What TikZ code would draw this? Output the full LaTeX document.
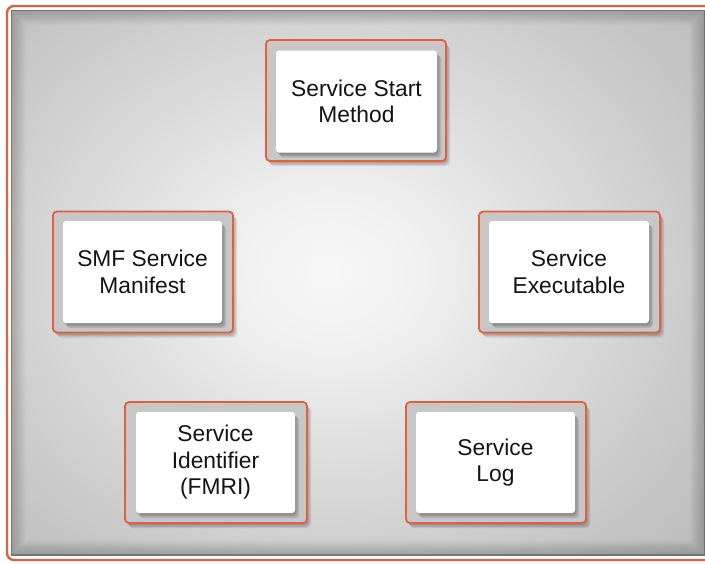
\documentclass[tikz,border=0pt]{standalone}
\usepackage{fontspec}
\setmainfont{Liberation Sans}
\usetikzlibrary{shadows}
\definecolor{frameor}{HTML}{E2603C}
\definecolor{txt}{HTML}{141414}
\pgfdeclareradialshading{bgrad}{\pgfpoint{0bp}{0bp}}{%
  color(0bp)=(white!97!black);
  color(6bp)=(white!94!black);
  color(15bp)=(white!86!black);
  color(25bp)=(white!78!black);
  color(35bp)=(white!71!black);
  color(45bp)=(white!66!black);
  color(60bp)=(white!62!black);
  color(71bp)=(white!60!black)}
\tikzset{
  softshadow/.style={
    drop shadow={opacity=0.10, shadow xshift=1pt, shadow yshift=-2pt, fill=black},
    drop shadow={opacity=0.12, shadow xshift=2.5pt, shadow yshift=-3.5pt, fill=black},
    drop shadow={opacity=0.10, shadow xshift=4pt, shadow yshift=-5pt, fill=black}},
  orbox/.style={draw=frameor, line width=1.8pt, rounded corners=4pt,
    fill=white!78!black, minimum width=180pt, minimum height=121pt,
    inner sep=0pt, softshadow},
  whbox/.style={fill=white, rounded corners=3pt, minimum width=160pt,
    minimum height=102pt, inner sep=2pt, align=center, text=txt,
    font=\fontsize{22.8}{26.5}\selectfont, softshadow}
}
\begin{document}
\begin{tikzpicture}[x=1pt,y=-1pt]
\useasboundingbox (0,0) rectangle (705,563);
\fill[white] (0,0) rectangle (705,563);
\draw[frameor, line width=2.4pt, rounded corners=7pt] (7,6) rectangle (720,560);
\begin{scope}
  \clip (11,10) rectangle (705,555);
  \shade[shading=bgrad] (-70,-58) rectangle (730,602);
  \foreach \w in {2,4,...,30}{
    \draw[black, opacity=0.012, line width=\w pt] (11,10) rectangle (705,555);
  }
  \draw[black, opacity=0.25, line width=1.6pt] (11,10) rectangle (705,555);
\end{scope}
% frames
\node[orbox] (startF) at (356,100.5) {};
\node[orbox] (smfF) at (143,272) {};
\node[orbox, minimum width=181pt] (execF) at (569.5,272) {};
\node[orbox, minimum width=182pt] (fmriF) at (216,462.5) {};
\node[orbox] (logF) at (496,462.5) {};
% white boxes
\node[whbox, minimum width=161pt] (start) at (356.5,101.5) {Service Start\\Method};
\node[whbox, minimum width=159pt] (smf) at (142.5,272) {SMF Service\\Manifest};
\node[whbox] (exec) at (569,272) {Service\\Executable};
\node[whbox, minimum width=159pt, minimum height=101pt] (fmri) at (215.5,462.5) {Service\\Identifier\\(FMRI)};
\node[whbox, minimum width=159pt, minimum height=101pt] (log) at (495.5,462.5) {Service\\Log};
\end{tikzpicture}
\end{document}
